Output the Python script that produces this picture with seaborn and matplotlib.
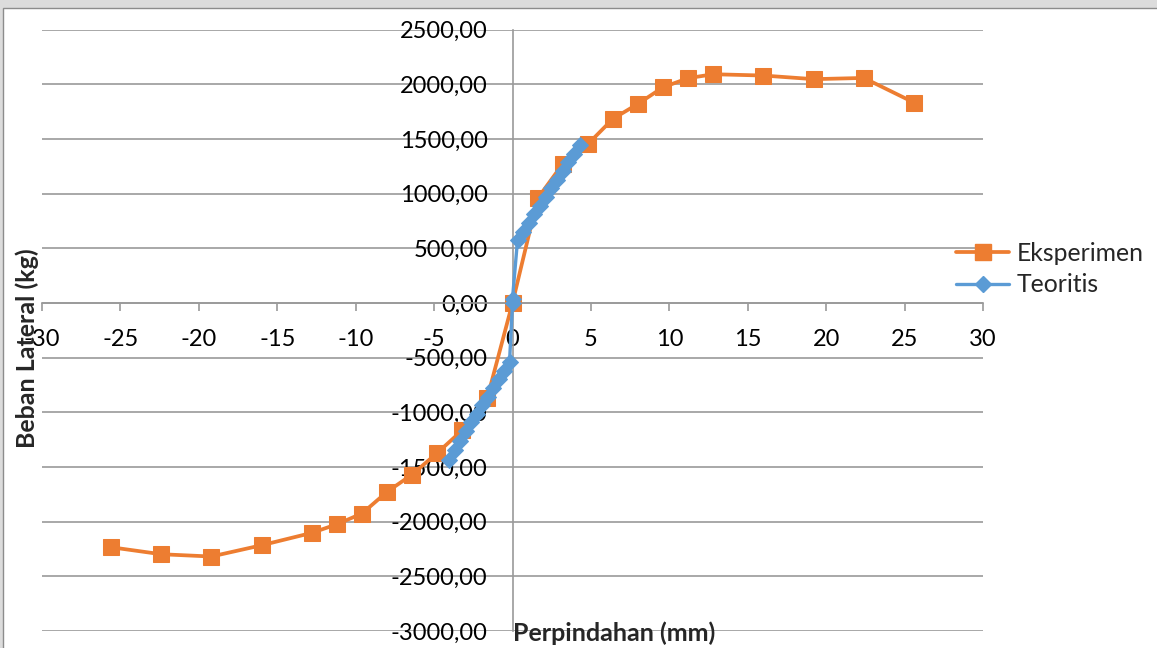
import matplotlib
matplotlib.use("Agg")
import matplotlib.pyplot as plt
from matplotlib.patches import Rectangle
from matplotlib.lines import Line2D
from matplotlib.ticker import FuncFormatter, MultipleLocator
import seaborn as sns
import pandas as pd

# Lateral load vs. displacement
eksperimen_x = [-25.6, -22.4, -19.2, -16.0, -12.8, -11.2, -9.6, -8.0, -6.4, -4.8,
                -3.2, -1.6, 0.0, 1.6, 3.2, 4.8, 6.4, 8.0, 9.6, 11.2, 12.8, 16.0,
                19.2, 22.4, 25.6]
eksperimen_y = [-2234, -2298, -2319, -2216, -2103, -2024, -1926, -1728, -1569, -1372,
                -1164, -865, 0, 955, 1270, 1451, 1683, 1820, 1972, 2055, 2091, 2079,
                2046, 2057, 1832]

teoritis_x = [-4.06, -3.69, -3.34, -2.99, -2.64, -2.29, -1.94, -1.59, -1.24, -0.89,
              -0.54, -0.19, 0.0, 0.0, 0.32, 0.68, 1.04, 1.40, 1.76, 2.12, 2.48, 2.84,
              3.20, 3.56, 3.92, 4.28]
teoritis_y = [-1438, -1348, -1260, -1175, -1093, -1013, -935, -858, -780, -700,
              -620, -540, 0, 40, 573, 652, 731, 810, 889, 968, 1047, 1126,
              1205, 1284, 1363, 1442]

series_names = ["Eksperimen", "Teoritis"]
x_label = "Perpindahan (mm)"
y_label = "Beban Lateral (kg)"

ORANGE = "#ED7D31"
BLUE = "#5B9BD5"
GRID = "#9A9A9A"

sns.set_theme(style="white")
plt.rcParams["font.family"] = ["Lato", "DejaVu Sans"]

W, H = 1157, 648
fig = plt.figure(figsize=(W / 100, H / 100), dpi=100)
fig.patch.set_facecolor("#DCDCDC")
# white chart area with a thin grey border
fig.patches.append(Rectangle((3 / W, -0.02), 1.1, (H - 8) / H + 0.02,
                             transform=fig.transFigure, facecolor="white",
                             edgecolor="#8C8C8C", linewidth=1.0, zorder=-10))

ax = fig.add_axes([42 / W, (H - 631) / H, (983 - 42) / W, (631 - 29.5) / H])
ax.set_facecolor("none")
ax.set_zorder(1)

df_e = pd.DataFrame({"x": eksperimen_x, "y": eksperimen_y})
df_t = pd.DataFrame({"x": teoritis_x, "y": teoritis_y})

sns.lineplot(data=df_e, x="x", y="y", sort=False, estimator=None, ax=ax,
             color=ORANGE, linewidth=2.7, marker="s", markersize=11,
             markeredgecolor=ORANGE, zorder=3)
sns.lineplot(data=df_t, x="x", y="y", sort=False, estimator=None, ax=ax,
             color=BLUE, linewidth=2.4, marker="D", markersize=8.5,
             markeredgecolor=BLUE, zorder=4)

ax.set_xlim(-30, 30)
ax.set_ylim(-3000, 2500)
ax.xaxis.set_major_locator(MultipleLocator(5))
ax.yaxis.set_major_locator(MultipleLocator(500))
ax.xaxis.set_major_formatter(FuncFormatter(lambda v, p: f"{int(round(v))}"))
ax.yaxis.set_major_formatter(FuncFormatter(lambda v, p: f"{v:.2f}".replace(".", ",")))

ax.yaxis.grid(True, color=GRID, linewidth=1.2)
ax.xaxis.grid(False)
ax.set_axisbelow(True)

for s in ("top", "right"):
    ax.spines[s].set_visible(False)
ax.spines["left"].set_position(("data", 0))
ax.spines["bottom"].set_position(("data", 0))
for s in ("left", "bottom"):
    ax.spines[s].set_color(GRID)
    ax.spines[s].set_linewidth(1.2)

ax.tick_params(axis="x", direction="out", length=5.8, width=1.2, color=GRID,
               pad=13, labelsize=17, labelcolor="black", bottom=True)
ax.tick_params(axis="y", length=0, pad=18, labelsize=17, labelcolor="black", left=True)
ax.set_xlabel("")
ax.set_ylabel("")

fig.text(27 / W, 1 - 348 / H, y_label, rotation=90, ha="center", va="center",
         fontsize=18, fontweight="bold")
fig.text(513 / W, 1 - 633 / H, x_label, ha="left", va="center",
         fontsize=18, fontweight="bold")

handles = [
    Line2D([], [], color=ORANGE, linewidth=2.7, marker="s", markersize=11,
           markeredgecolor=ORANGE),
    Line2D([], [], color=BLUE, linewidth=2.4, marker="D", markersize=8.5,
           markeredgecolor=BLUE),
]
fig.legend(handles, series_names, loc="center left",
           bbox_to_anchor=(956 / W, 1 - 269 / H), frameon=False, fontsize=17.8,
           handlelength=2.15, handletextpad=0.3, labelspacing=0.35,
           borderaxespad=0, borderpad=0)

fig.savefig("out.png", dpi=100, facecolor=fig.get_facecolor())
